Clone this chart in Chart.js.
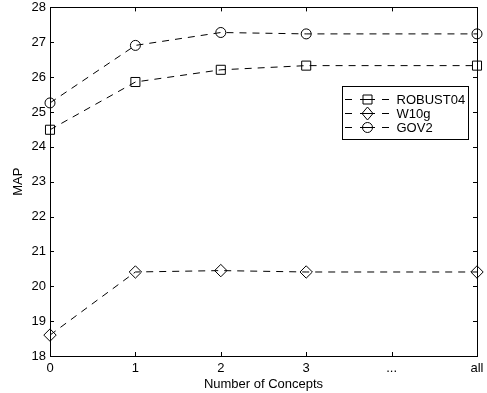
<!DOCTYPE html>
<html>
<head>
<meta charset="utf-8">
<script src="https://cdn.jsdelivr.net/npm/chart.js@4/dist/chart.umd.min.js"></script>
<style>
  html, body { margin: 0; padding: 0; background: #fff; }
  #wrap { width: 487px; height: 393px; }
</style>
</head>
<body>
<div id="wrap"><canvas id="c" width="487" height="393"></canvas></div>
<script>
const categories = ['0', '1', '2', '3', '...', 'all'];
const robust04 = [24.49, 25.86, 26.21, 26.33, null, 26.33];
const w10g = [18.60, 20.41, 20.45, 20.41, null, 20.41];
const gov2 = [25.26, 26.91, 27.28, 27.24, null, 27.24];
const seriesNames = ['ROBUST04', 'W10g', 'GOV2'];
const yMin = 18, yMax = 28;
const xTitle = 'Number of Concepts';
const yTitle = 'MAP';

const FONT = 'Liberation Sans, Arial, Helvetica, sans-serif';

function ds(label, data, style, radius) {
  return {
    label, data,
    borderColor: '#000', borderWidth: 1, borderDash: [7, 6],
    pointStyle: style, pointRadius: radius, pointHoverRadius: radius,
    pointBorderColor: '#000', pointBackgroundColor: 'rgba(0,0,0,0)',
    pointBorderWidth: 1, spanGaps: true, tension: 0, clip: false, fill: false
  };
}

function marker(ctx, style, x, y) {
  ctx.beginPath();
  if (style === 'rect') {
    ctx.rect(x - 4.5, y - 4.5, 9, 9);
  } else if (style === 'rectRot') {
    ctx.moveTo(x, y - 6.5); ctx.lineTo(x + 5.5, y); ctx.lineTo(x, y + 6.5); ctx.lineTo(x - 5.5, y); ctx.closePath();
  } else {
    ctx.arc(x, y, 5, 0, Math.PI * 2);
  }
  ctx.stroke();
}

const framePlugin = {
  id: 'frame',
  afterDatasetsDraw(chart) {
    const ctx = chart.ctx, a = chart.chartArea;
    const xs = chart.scales.x, ys = chart.scales.y;
    ctx.save();
    ctx.strokeStyle = '#000'; ctx.lineWidth = 1; ctx.setLineDash([]);
    ctx.strokeRect(Math.round(a.left) + 0.5, Math.round(a.top) + 0.5, Math.round(a.right - a.left), Math.round(a.bottom - a.top));
    const tl = 4;
    ctx.beginPath();
    ys.ticks.forEach((t, i) => {
      const py = Math.round(ys.getPixelForTick(i)) + 0.5;
      ctx.moveTo(a.left, py); ctx.lineTo(a.left + tl, py);
      ctx.moveTo(a.right, py); ctx.lineTo(a.right - tl, py);
    });
    xs.ticks.forEach((t, i) => {
      const px = Math.round(xs.getPixelForTick(i)) + 0.5;
      ctx.moveTo(px, a.top); ctx.lineTo(px, a.top + tl);
      ctx.moveTo(px, a.bottom); ctx.lineTo(px, a.bottom - tl);
    });
    ctx.stroke();

    // legend
    const bx = Math.round(a.right - 135) + 0.5, by = Math.round(a.top + 79) + 0.5, bw = 126, bh = 53;
    ctx.fillStyle = '#fff';
    ctx.fillRect(bx, by, bw, bh);
    ctx.strokeRect(bx, by, bw, bh);
    ctx.font = '13px ' + FONT;
    ctx.fillStyle = '#000';
    ctx.textBaseline = 'middle';
    ctx.textAlign = 'left';
    chart.data.datasets.forEach((d, i) => {
      const y = Math.round(by + 12 + i * 14.3) + 0.5;
      const x0 = bx + 2.5;
      ctx.beginPath();
      ctx.moveTo(x0, y); ctx.lineTo(x0 + 7, y);
      ctx.moveTo(x0 + 15, y); ctx.lineTo(x0 + 30, y);
      ctx.moveTo(x0 + 37, y); ctx.lineTo(x0 + 44, y);
      ctx.stroke();
      marker(ctx, d.pointStyle, x0 + 22.5, y);
      ctx.fillText(d.label, bx + 54, y + 0.5);
    });
    ctx.restore();
  }
};

new Chart(document.getElementById('c'), {
  type: 'line',
  data: {
    labels: categories,
    datasets: [
      ds(seriesNames[0], robust04, 'rect', 6.4),
      ds(seriesNames[1], w10g, 'rectRot', 6.2),
      ds(seriesNames[2], gov2, 'circle', 5)
    ]
  },
  options: {
    responsive: false,
    animation: false,
    events: [],
    layout: { padding: { top: 4, right: 10, left: 0, bottom: 0 } },
    plugins: { legend: { display: false }, tooltip: { enabled: false }, title: { display: false } },
    scales: {
      x: {
        type: 'category',
        offset: false,
        grid: { display: false, drawTicks: false },
        border: { display: false },
        ticks: { color: '#000', font: { family: FONT, size: 13 }, padding: 5, autoSkip: false, maxRotation: 0 },
        title: { display: true, text: xTitle, color: '#000', font: { family: FONT, size: 13 }, padding: { top: 0, bottom: 1 } },
        afterFit(s) { s.height = 37; s.paddingLeft = 0; s.paddingRight = 0; }
      },
      y: {
        type: 'linear',
        min: yMin, max: yMax,
        grid: { display: false, drawTicks: false },
        border: { display: false },
        ticks: { stepSize: 1, color: '#000', font: { family: FONT, size: 13 }, padding: 4 },
        title: { display: true, text: yTitle, color: '#000', font: { family: FONT, size: 13 }, padding: { top: 11, bottom: 0 } },
        afterFit(s) { s.width = 50; s.paddingTop = 0; s.paddingBottom = 0; }
      }
    }
  },
  plugins: [framePlugin]
});
</script>
</body>
</html>
